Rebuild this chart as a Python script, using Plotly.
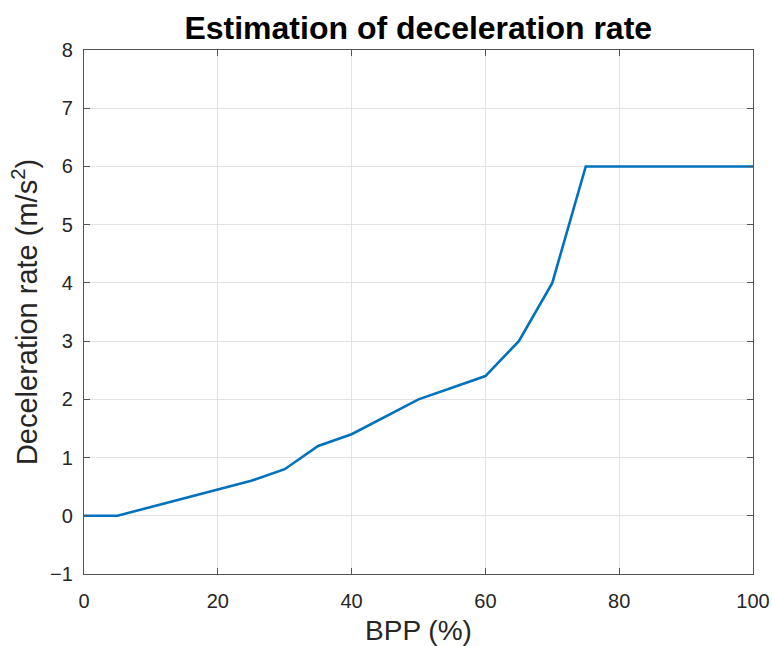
import plotly.graph_objects as go

bpp = [0, 5, 10, 15, 20, 25, 30, 35, 40, 45, 50, 55, 60, 65, 70, 75, 80, 85, 90, 95, 100]
decel = [0, 0, 0.15, 0.3, 0.45, 0.6, 0.8, 1.2, 1.4, 1.7, 2.0, 2.2, 2.4, 3.0, 4.0, 6.0, 6.0, 6.0, 6.0, 6.0, 6.0]
x_ticks = [0, 20, 40, 60, 80, 100]
y_ticks = [-1, 0, 1, 2, 3, 4, 5, 6, 7, 8]

FONT = "Liberation Sans, Arial, Helvetica, sans-serif"
AX = "#262626"

fig = go.Figure()
fig.add_trace(go.Scatter(x=bpp, y=decel, mode="lines",
                         line=dict(color="#0072BD", width=2.6), showlegend=False))

axis_common = dict(
    showline=True, linecolor="#555555", linewidth=1.2, mirror="ticks",
    ticks="inside", ticklen=6, tickcolor="#555555", tickwidth=1.2,
    showgrid=True, gridcolor="#e3e3e3", gridwidth=1, zeroline=False,
    tickfont=dict(family=FONT, size=20, color=AX), automargin=False,
)

fig.update_layout(
    width=772, height=646,
    margin=dict(l=84, r=19, t=50, b=72),
    paper_bgcolor="white", plot_bgcolor="white",
    title=dict(text="<b>Estimation of deceleration rate</b>", x=0.5418, xanchor="center",
               y=1 - 28 / 646, yanchor="middle",
               font=dict(family=FONT, size=32, color="black")),
    xaxis=dict(range=[0, 100], tickvals=x_ticks, ticklabelstandoff=9,
               title=dict(text="BPP (%)", standoff=12,
                          font=dict(family=FONT, size=28, color=AX)),
               **axis_common),
    yaxis=dict(range=[-1, 8], tickvals=y_ticks, ticklabelstandoff=6,
               title=dict(text="Deceleration rate (m/s<sup>2</sup>)", standoff=3,
                          font=dict(family=FONT, size=29, color=AX)),
               **axis_common),
)

fig.write_html("out.html")
